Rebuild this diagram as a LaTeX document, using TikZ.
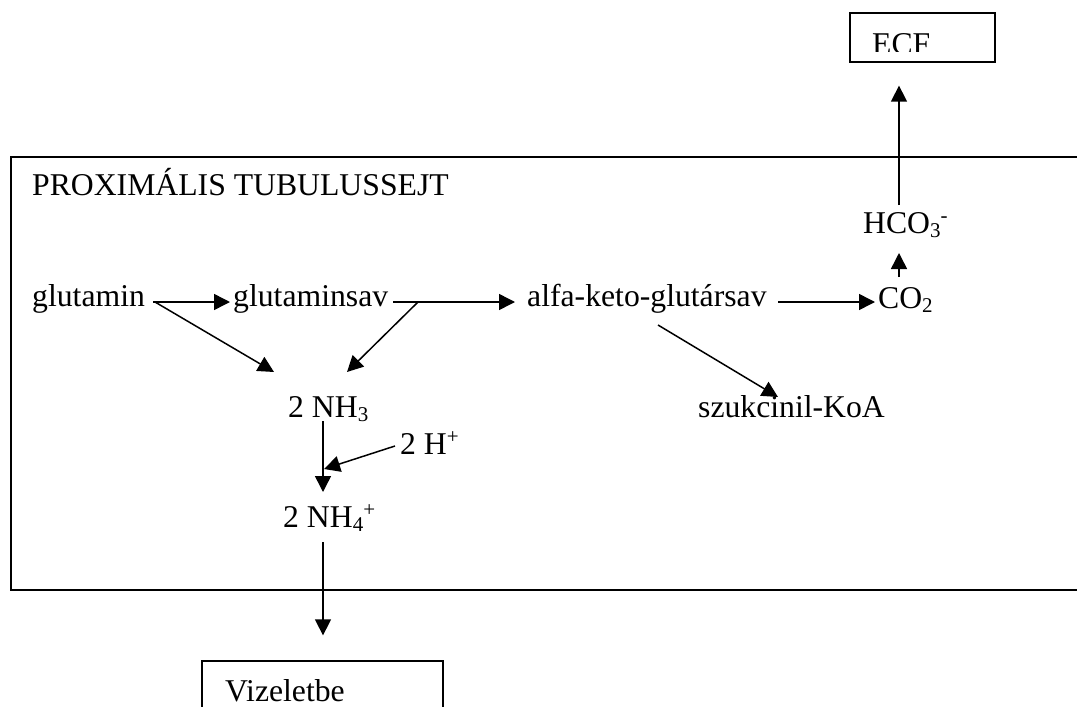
\documentclass[tikz,border=0pt]{standalone}
\usepackage{fontspec}
\setmainfont{Liberation Serif}
\usetikzlibrary{arrows.meta,calc}
\newcommand{\mysub}[1]{\raisebox{-4.5pt}{\fontsize{21pt}{24pt}\selectfont #1}}
\newcommand{\mysup}[1]{\raisebox{10.5pt}{\fontsize{21pt}{24pt}\selectfont #1}}
\begin{document}
\begin{tikzpicture}[x=1pt,y=-1pt,
  lbl/.style={inner sep=0pt,anchor=base west,font=\fontsize{31.7pt}{38pt}\selectfont},
  conn/.style={line width=1.5pt,-{Triangle[length=16pt,width=16pt]}},
  boxed/.style={draw,line width=1.3pt,inner sep=0pt}]
\useasboundingbox (0,0) rectangle (1077,707);
% cell
\draw[line width=1.2pt] (1100,157) -- (11,157) -- (11,590) -- (1100,590);
\node[lbl] (prox) at (32,195) {PROXIMÁLIS TUBULUSSEJT};
% boxes
\node[boxed,minimum width=145pt,minimum height=49pt] (ecf) at (922.5,37.5) {};
\begin{scope}
\clip (850,13) rectangle (995,51);
\node[lbl] (ecftxt) at (872,54) {ECF};
\end{scope}
\node[boxed,minimum width=241pt,minimum height=80pt] (viz) at (322.5,701) {};
\node[lbl] (viztxt) at (225,701) {Vizeletbe};
% species
\node[lbl] (glutamin) at (32,306) {glutamin};
\node[lbl] (glutaminsav) at (233,306) {glutaminsav};
\node[lbl] (alfa) at (527,306) {alfa-keto-glutársav};
\node[lbl] (co2) at (878,308) {CO\mysub{2}};
\node[lbl] (hco3) at (863,233) {HCO\mysub{3}\mysup{-}};
\node[lbl] (szuk) at (698,417) {szukcinil-KoA};
\node[lbl] (nh3) at (288,417) {2 NH\mysub{3}};
\node[lbl] (hplus) at (400,454) {2 H\mysup{+}};
\node[lbl] (nh4) at (283,527) {2 NH\mysub{4}\mysup{+}};
% connectors
\draw[conn] ($(glutamin.base west)+(121,-4)$) -- ($(glutaminsav.base west)+(-3,-4)$);
\draw[conn] ($(glutamin.base west)+(123,-4)$) -- ($(nh3.base west)+(-14,-45)$);
\draw[conn] ($(glutaminsav.base west)+(160,-4)$) -- ($(alfa.base west)+(-12,-4)$);
\draw[conn] ($(glutaminsav.base west)+(185,-4)$) -- ($(nh3.base west)+(59,-45)$);
\draw[conn] ($(alfa.base west)+(251,-4)$) -- ($(co2.base west)+(-3,-6)$);
\draw[conn] ($(alfa.base west)+(131,19)$) -- ($(szuk.base west)+(80,-20)$);
\draw[conn] ($(co2.base west)+(21,-31)$) -- ($(hco3.base west)+(36,20)$);
\draw[conn] ($(hco3.base west)+(36,-28)$) -- ($(ecf.south)+(-23.5,23)$);
\draw[conn] ($(nh3.base west)+(35,4)$) -- ($(nh4.base west)+(40,-35)$);
\draw[conn] ($(hplus.base west)+(-5,-8)$) -- ($(nh4.base west)+(41,-58)$);
\draw[conn] ($(nh4.base west)+(40,15)$) -- ($(viz.north)+(0.5,-25)$);
\end{tikzpicture}
\end{document}
